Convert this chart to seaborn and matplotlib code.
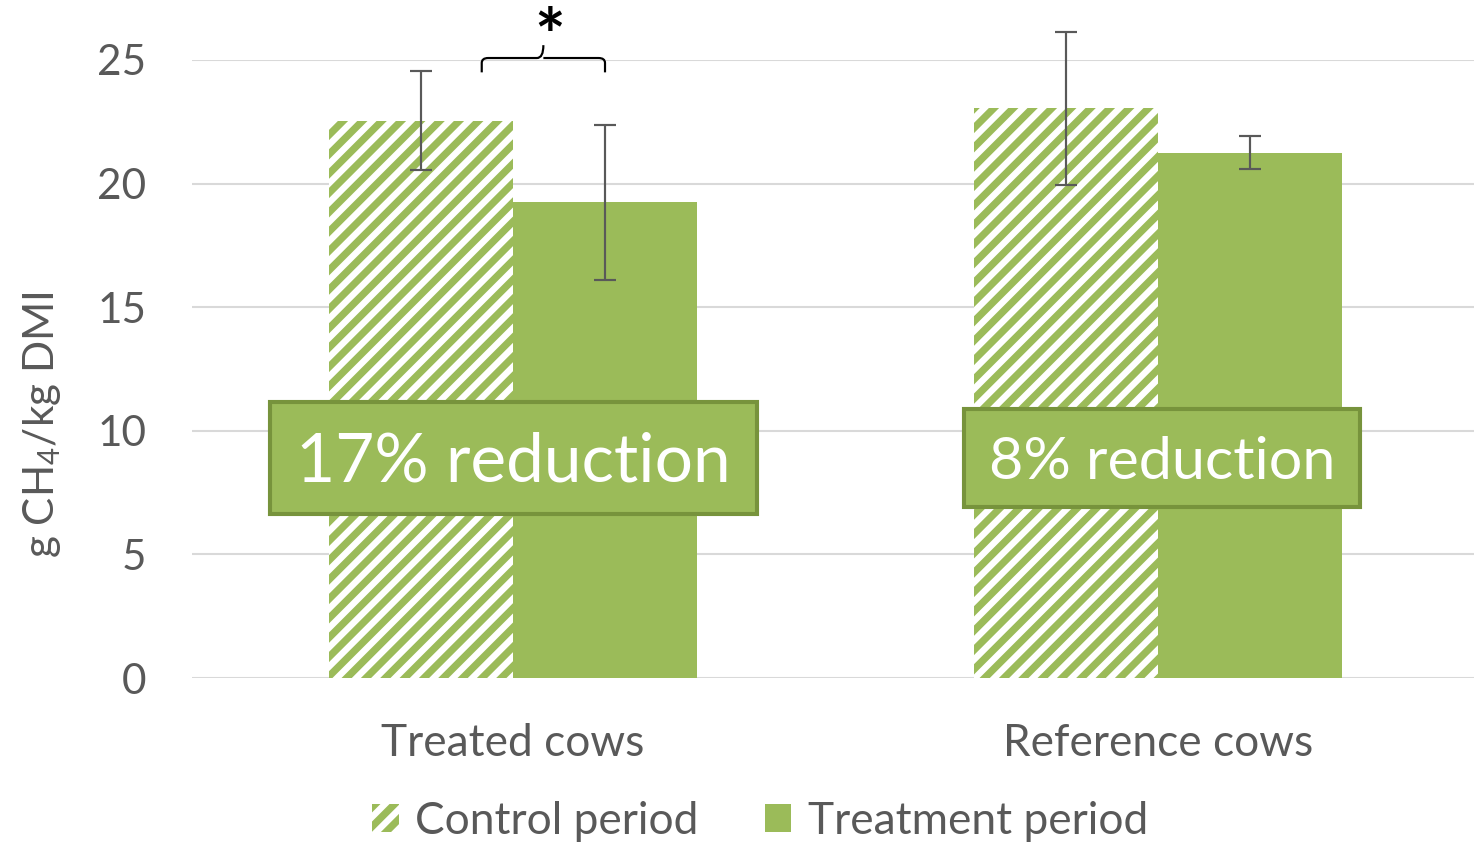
import numpy as np
import pandas as pd
import matplotlib.pyplot as plt
import seaborn as sns
from matplotlib.patches import Patch, Rectangle, PathPatch
from matplotlib.path import Path

# data
groups = ["Treated cows", "Reference cows"]
periods = ["Control period", "Treatment period"]
control_vals = [22.55, 23.05]
treatment_vals = [19.25, 21.25]
control_err = [2.0, 3.1]
treatment_err = [3.13, 0.67]
reductions = ["17% reduction", "8% reduction"]

green = "#9BBB59"
dark_green = "#77933C"
grey = "#595959"

DPI = 174
sns.set_theme(style="white")
plt.rcParams['font.family'] = ['Lato', 'DejaVu Sans']
plt.rcParams['mathtext.fontset'] = 'custom'
plt.rcParams['mathtext.rm'] = 'Lato'
plt.rcParams['hatch.linewidth'] = 3.0

df = pd.DataFrame({
    "group": groups * 2,
    "period": [periods[0]] * 2 + [periods[1]] * 2,
    "value": control_vals + treatment_vals,
})

fig = plt.figure(figsize=(1474 / DPI, 846 / DPI), dpi=DPI)
ax = fig.add_axes([192 / 1474, 168 / 846, 1282 / 1474, 618 / 846])

sns.barplot(data=df, x="group", y="value", hue="period", order=groups,
            hue_order=periods, palette=[green, green], width=0.5705, gap=0,
            saturation=1, legend=False, ax=ax, zorder=2)

ctrl_bars, trt_bars = ax.containers[0], ax.containers[1]
for p in ctrl_bars:
    p.set_facecolor("white")
    p.set_edgecolor(green)
    p.set_hatch("///")
    p.set_linewidth(0)
for p in trt_bars:
    p.set_linewidth(0)

# error bars at the bar centres
for bars, errs in [(ctrl_bars, control_err), (trt_bars, treatment_err)]:
    xs = [p.get_x() + p.get_width() / 2 for p in bars]
    hs = [p.get_height() for p in bars]
    ax.errorbar(xs, hs, yerr=errs, fmt="none", ecolor=grey, elinewidth=0.9,
                capsize=4.5, capthick=0.9, zorder=4, clip_on=False)

# reduction boxes
box_w = [0.755, 0.614]
box_h = [4.53, 4.0]
box_x = [0.0, 1.006]
font_sz = [28, 24.5]
for i, lab in enumerate(reductions):
    ax.add_patch(Rectangle((box_x[i] - box_w[i] / 2, 8.9 - box_h[i] / 2),
                           box_w[i], box_h[i], facecolor=green,
                           edgecolor=dark_green, linewidth=1.7, zorder=5))
    ax.text(box_x[i], 8.72, lab, ha="center", va="center", color="white",
            fontsize=font_sz[i], zorder=6)

# significance bracket between the two treated-cow bars
b0, b1 = ctrl_bars[0], trt_bars[0]
xl = b0.get_x() + b0.get_width() * 0.83
xr = b1.get_x() + b1.get_width() * 0.5
xm = (xl + xr) / 2
y0, y1, yp = 24.5, 25.08, 25.6
dx = 0.01
verts = [(xl, y0), (xl, y1 - 0.2), (xl, y1), (xl + dx, y1),
         (xm - dx, y1), (xm, y1), (xm, yp),
         (xm, y1), (xm + dx, y1),
         (xr - dx, y1), (xr, y1), (xr, y1 - 0.2), (xr, y0)]
codes = [Path.MOVETO, Path.LINETO, Path.CURVE3, Path.CURVE3,
         Path.LINETO, Path.CURVE3, Path.CURVE3,
         Path.MOVETO, Path.CURVE3,
         Path.LINETO, Path.CURVE3, Path.CURVE3, Path.LINETO]
ax.add_patch(PathPatch(Path(verts, codes), fill=False, edgecolor="black",
                       linewidth=0.9, clip_on=False, zorder=4))
ax.text(xm + 0.01, 25.75, "*", ha="center", va="center", fontsize=30,
        fontweight="bold", color="black", clip_on=False)

ax.set_ylim(0, 25)
ax.set_xlim(-0.4977, 1.4899)
ax.set_yticks([0, 5, 10, 15, 20, 25])
ax.yaxis.grid(True, color="#D9D9D9", linewidth=0.85, zorder=0)
ax.set_axisbelow(True)
for s in ax.spines.values():
    s.set_visible(False)
ax.tick_params(axis="both", length=0, labelcolor=grey)
ax.tick_params(axis="y", pad=19, labelsize=17.5)
ax.tick_params(axis="x", pad=18.5, labelsize=18.3)
ax.set_xlabel("")
ax.set_ylabel(r"g CH$_{\mathregular{4}}$/kg DMI", fontsize=17.5, color=grey)
ax.yaxis.set_label_coords(-0.101, 0.41)

handles = [Patch(facecolor="white", edgecolor=green, hatch="///", linewidth=0),
           Patch(facecolor=green, linewidth=0)]
fig.legend(handles, periods, loc="center", bbox_to_anchor=(0.5156, 0.029),
           ncol=2, frameon=False, fontsize=18.3, labelcolor=grey,
           handlelength=0.6, handleheight=0.6, handletextpad=0.37,
           columnspacing=1.5)

fig.savefig("out.png", dpi=DPI)
